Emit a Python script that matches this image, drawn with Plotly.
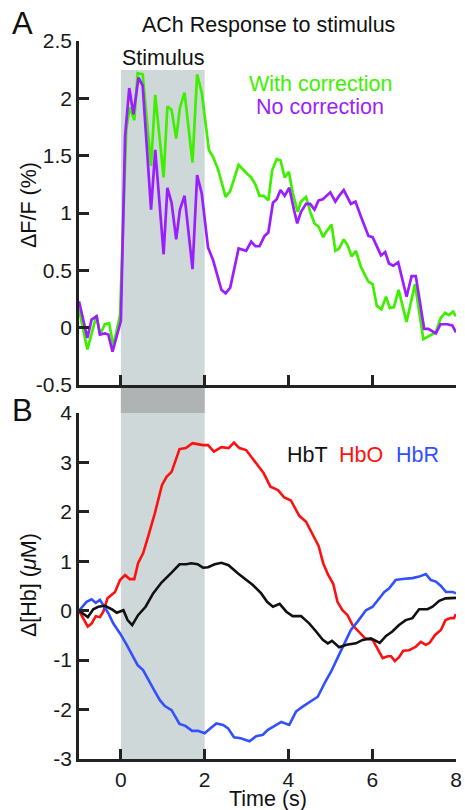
import plotly.graph_objects as go

# ---------------- data ----------------
stim_start, stim_end = 0, 2

t_with = [-1.0, -0.8, -0.58, -0.5, -0.38, -0.28, -0.18, -0.02, 0.13, 0.21, 0.32, 0.40, 0.52, 0.72, 0.82,
          1.02, 1.11, 1.21, 1.32, 1.41, 1.52, 1.71, 1.82, 1.93, 2.04, 2.10, 2.20, 2.32, 2.50, 2.61, 2.81,
          2.91, 3.02, 3.11, 3.21, 3.31, 3.41, 3.52, 3.61, 3.72, 3.81, 3.91, 4.01, 4.10, 4.22, 4.30, 4.42,
          4.52, 4.62, 4.72, 4.83, 4.91, 5.03, 5.12, 5.21, 5.32, 5.41, 5.51, 5.61, 5.73, 5.91, 6.01, 6.11,
          6.22, 6.33, 6.42, 6.52, 6.63, 6.82, 7.02, 7.22, 7.52, 7.63, 7.74, 7.83, 7.93, 8.0]
with_correction = [0.16, -0.19, 0.11, -0.06, 0.03, 0.04, -0.16, 0.11, 1.73, 1.92, 1.81, 2.22, 2.21, 1.41, 2.03,
                   1.31, 1.93, 1.90, 1.65, 1.92, 2.05, 1.44, 2.21, 2.05, 1.73, 1.55, 1.49, 1.38, 1.14, 1.19, 1.42,
                   1.38, 1.34, 1.31, 1.25, 1.15, 1.15, 1.11, 1.37, 1.47, 1.46, 1.31, 1.36, 1.18, 1.01, 1.10, 1.14,
                   1.01, 0.91, 0.88, 0.79, 0.84, 0.90, 0.67, 0.69, 0.77, 0.72, 0.62, 0.67, 0.53, 0.40, 0.38, 0.19,
                   0.16, 0.27, 0.17, 0.18, 0.33, 0.05, 0.38, -0.10, -0.04, 0.08, 0.13, 0.11, 0.14, 0.10]

t_no = [-1.0, -0.8, -0.7, -0.58, -0.5, -0.38, -0.3, -0.2, 0.0, 0.1, 0.2, 0.3, 0.42, 0.52, 0.72, 0.82, 1.02,
        1.11, 1.21, 1.32, 1.41, 1.52, 1.71, 1.82, 1.93, 2.08, 2.2, 2.4, 2.5, 2.61, 2.81, 2.99, 3.11, 3.21,
        3.31, 3.43, 3.52, 3.63, 3.72, 3.81, 3.91, 4.02, 4.13, 4.21, 4.30, 4.42, 4.52, 4.62, 4.72, 4.82, 5.0,
        5.12, 5.21, 5.32, 5.49, 5.60, 5.73, 5.91, 6.01, 6.21, 6.31, 6.40, 6.5, 6.62, 6.82, 6.94, 7.04, 7.24,
        7.34, 7.52, 7.63, 7.79, 7.91, 8.0]
no_correction = [0.23, -0.09, 0.07, 0.10, -0.06, -0.05, -0.06, -0.21, 0.06, 1.67, 2.09, 1.86, 2.18, 2.11, 1.03,
                 1.55, 0.64, 1.22, 1.09, 0.77, 1.03, 1.15, 0.51, 1.33, 1.17, 0.70, 0.59, 0.33, 0.30, 0.35, 0.69,
                 0.67, 0.75, 0.71, 0.71, 0.80, 0.83, 1.09, 1.12, 1.20, 1.15, 1.22, 1.03, 0.91, 1.01, 1.08, 1.08,
                 1.03, 1.11, 1.12, 1.18, 1.10, 1.15, 1.20, 1.08, 1.10, 0.97, 0.80, 0.79, 0.63, 0.66, 0.56, 0.54,
                 0.57, 0.27, 0.45, 0.45, -0.01, -0.01, -0.05, 0.03, 0.03, 0.02, -0.04]

t_hbo = [-1.0, -0.79, -0.70, -0.6, -0.5, -0.42, -0.32, -0.14, -0.02, 0.1, 0.21, 0.32, 0.41, 0.53, 0.65, 0.81,
         0.98, 1.09, 1.21, 1.31, 1.40, 1.55, 1.71, 1.83, 1.96, 2.08, 2.22, 2.40, 2.57, 2.70, 2.83, 2.99, 3.11,
         3.25, 3.41, 3.57, 3.65, 3.75, 3.90, 4.06, 4.18, 4.26, 4.42, 4.58, 4.72, 4.83, 4.94, 5.07, 5.17, 5.29,
         5.41, 5.53, 5.65, 5.83, 6.01, 6.15, 6.25, 6.37, 6.45, 6.54, 6.64, 6.74, 6.88, 7.04, 7.16, 7.28, 7.37,
         7.5, 7.64, 7.75, 7.87, 7.95, 8.0]
hbo = [0.0, -0.32, -0.26, -0.11, -0.13, -0.02, 0.25, 0.38, 0.62, 0.72, 0.64, 0.64, 0.96, 1.16, 1.50, 1.97,
       2.54, 2.71, 2.81, 3.05, 3.27, 3.29, 3.39, 3.37, 3.35, 3.35, 3.22, 3.31, 3.29, 3.40, 3.29, 3.25, 3.12,
       2.95, 2.78, 2.51, 2.48, 2.44, 2.29, 2.23, 2.04, 1.92, 1.80, 1.53, 1.31, 0.96, 0.74, 0.54, 0.18, 0.01,
       -0.09, -0.29, -0.40, -0.56, -0.59, -0.80, -0.96, -0.92, -0.92, -1.02, -0.94, -0.81, -0.80, -0.73, -0.63,
       -0.69, -0.65, -0.49, -0.39, -0.19, -0.15, -0.15, -0.07]

t_hbt = [-1.0, -0.79, -0.66, -0.54, -0.38, -0.22, -0.1, 0.06, 0.16, 0.27, 0.41, 0.59, 0.77, 0.97, 1.21, 1.40,
         1.56, 1.68, 1.83, 1.96, 2.08, 2.24, 2.40, 2.57, 2.79, 2.99, 3.15, 3.35, 3.49, 3.63, 3.79, 3.95, 4.10,
         4.30, 4.50, 4.66, 4.82, 4.94, 5.04, 5.21, 5.39, 5.61, 5.77, 5.97, 6.18, 6.33, 6.48, 6.64, 6.80, 6.96,
         7.12, 7.32, 7.44, 7.60, 7.75, 8.0]
hbt = [0.0, -0.13, 0.03, 0.08, 0.10, 0.03, -0.04, 0.01, -0.19, -0.29, -0.09, 0.08, 0.35, 0.57, 0.77, 0.94,
       0.94, 0.96, 0.94, 0.87, 0.88, 0.94, 0.97, 0.92, 0.76, 0.62, 0.52, 0.35, 0.18, 0.08, 0.14, -0.02, -0.11,
       -0.11, -0.26, -0.42, -0.59, -0.66, -0.61, -0.74, -0.69, -0.66, -0.59, -0.56, -0.65, -0.51, -0.42, -0.29,
       -0.19, -0.15, 0.03, 0.03, 0.08, 0.20, 0.25, 0.26]

t_hbr = [-1.0, -0.82, -0.70, -0.60, -0.5, -0.40, -0.30, -0.18, -0.02, 0.14, 0.27, 0.40, 0.53, 0.67, 0.79, 0.93,
         1.05, 1.21, 1.40, 1.54, 1.70, 1.84, 2.0, 2.14, 2.28, 2.44, 2.56, 2.70, 2.86, 3.07, 3.23, 3.39, 3.51,
         3.67, 3.83, 4.02, 4.18, 4.34, 4.54, 4.70, 4.86, 5.02, 5.17, 5.33, 5.49, 5.65, 5.85, 6.01, 6.17, 6.29,
         6.40, 6.56, 6.72, 6.96, 7.12, 7.28, 7.40, 7.52, 7.64, 7.76, 7.92, 8.0]
hbr = [0.0, 0.18, 0.23, 0.16, 0.22, 0.08, -0.05, -0.26, -0.46, -0.69, -0.90, -1.10, -1.20, -1.40, -1.60, -1.81,
       -1.93, -2.01, -2.29, -2.33, -2.43, -2.43, -2.48, -2.38, -2.28, -2.31, -2.38, -2.56, -2.58, -2.64, -2.54,
       -2.51, -2.41, -2.33, -2.25, -2.31, -2.04, -1.94, -1.82, -1.74, -1.47, -1.23, -0.96, -0.66, -0.39, -0.22,
       0.01, 0.08, 0.25, 0.38, 0.45, 0.62, 0.64, 0.66, 0.69, 0.74, 0.62, 0.59, 0.50, 0.38, 0.38, 0.35]

x_ticks = [0, 2, 4, 6, 8]
top_y_ticks = [-0.5, 0, 0.5, 1, 1.5, 2, 2.5]
top_y_labels = ["-0.5", "0", "0.5", "1", "1.5", "2", "2.5"]
bot_y_ticks = [-3, -2, -1, 0, 1, 2, 3, 4]
bot_y_labels = ["-3", "-2", "-1", "0", "1", "2", "3", "4"]

# ---------------- styling ----------------
FONT = "Liberation Sans, Arial, sans-serif"
GREEN = "#3ef000"
PURPLE = "#9b1eff"
RED = "#ff1010"
BLUE = "#3350ff"
BLACK = "#111111"
AX = "#222222"
TXT = 21.5

W, H = 465, 810
L, R, T, B = 79, 9, 41, 51
pw, ph = W - L - R, H - T - B


def px(x):
    return (x - L) / pw


def py(y):
    return (H - B - y) / ph


fig = go.Figure()
fig.add_trace(go.Scatter(x=t_with, y=with_correction, mode="lines",
                         line=dict(color=GREEN, width=2.7), xaxis="x", yaxis="y"))
fig.add_trace(go.Scatter(x=t_no, y=no_correction, mode="lines",
                         line=dict(color=PURPLE, width=2.7), xaxis="x", yaxis="y"))
fig.add_trace(go.Scatter(x=t_hbo, y=hbo, mode="lines",
                         line=dict(color=RED, width=2.6), xaxis="x2", yaxis="y2"))
fig.add_trace(go.Scatter(x=t_hbr, y=hbr, mode="lines",
                         line=dict(color=BLUE, width=2.6), xaxis="x2", yaxis="y2"))
fig.add_trace(go.Scatter(x=t_hbt, y=hbt, mode="lines",
                         line=dict(color=BLACK, width=2.6), xaxis="x2", yaxis="y2"))

top_dom = [py(385), 1.0]
bot_dom = [0.0, py(413)]

axis_common = dict(showline=True, linecolor=AX, linewidth=2.7, ticks="inside", ticklen=10,
                   tickwidth=2.7, tickcolor=AX, showgrid=False, zeroline=False, automargin=False,
                   tickfont=dict(family=FONT, size=21, color="#1a1a1a"))

fig.update_layout(
    width=W, height=H,
    margin=dict(l=L, r=R, t=T, b=B, autoexpand=False),
    paper_bgcolor="white", plot_bgcolor="rgba(0,0,0,0)",
    showlegend=False,
    xaxis=dict(axis_common, domain=[0, 1], range=[-1, 8], tickvals=x_ticks,
               showticklabels=False, anchor="y"),
    yaxis=dict(axis_common, domain=top_dom, range=[-0.5, 2.5], tickvals=top_y_ticks,
               ticktext=top_y_labels, anchor="x"),
    xaxis2=dict(axis_common, domain=[0, 1], range=[-1, 8], tickvals=x_ticks,
                ticktext=[str(v) for v in x_ticks], anchor="y2"),
    yaxis2=dict(axis_common, domain=bot_dom, range=[-3, 4], tickvals=bot_y_ticks,
                ticktext=bot_y_labels, anchor="x2"),
)

# stimulus shading
fig.add_shape(type="rect", xref="x", yref="paper", x0=stim_start, x1=stim_end,
              y0=0, y1=py(70), fillcolor="#cfd8d8", line=dict(width=0), layer="below")
fig.add_shape(type="rect", xref="x", yref="paper", x0=stim_start, x1=stim_end,
              y0=py(413), y1=py(385), fillcolor="#b0b3b3", line=dict(width=0), layer="below")


def ann(text, x, y, size=TXT, color=BLACK, angle=0):
    fig.add_annotation(text=text, x=px(x), y=py(y), xref="paper", yref="paper",
                       showarrow=False, xanchor="center", yanchor="middle", textangle=angle,
                       font=dict(family=FONT, size=size, color=color))


ann("A", 22, 24, size=31)
ann("B", 22, 410, size=31)
ann("ACh Response to stimulus", 268, 25)
ann("Stimulus", 163, 58)
ann("With correction", 320, 84, color=GREEN)
ann("No correction", 320, 107, color=PURPLE)
ann("HbT", 307, 455, color=BLACK)
ann("HbO", 361, 455, color=RED)
ann("HbR", 417, 455, color=BLUE)
ann("ΔF/F (%)", 29, 205, angle=-90)
ann("Δ[Hb] (<i>μ</i>M)", 29, 585, angle=-90)
ann("Time (s)", 268, 799)

fig.write_html("out.html", config={"displayModeBar": False},
               post_script="document.body.style.margin='0';document.body.style.overflow='hidden';")
